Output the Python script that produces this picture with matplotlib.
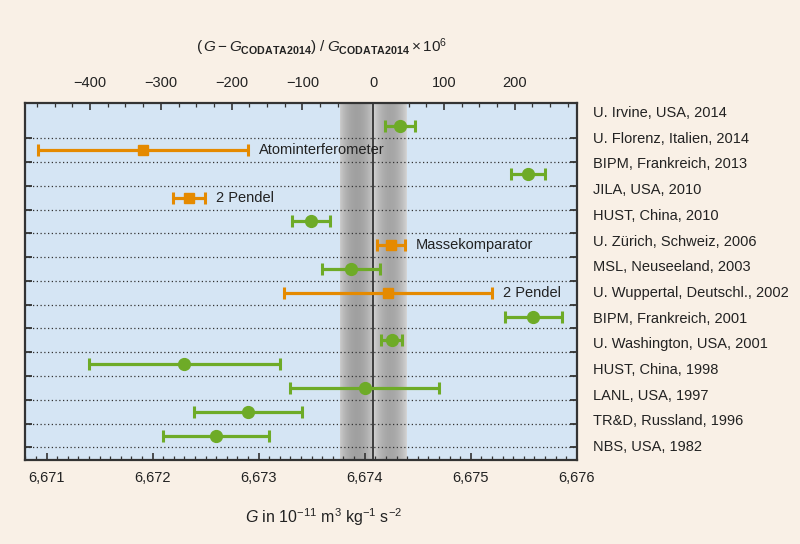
import numpy as np
import matplotlib.pyplot as plt
from matplotlib.ticker import MultipleLocator

plt.rcParams['font.family'] = ['Liberation Sans', 'DejaVu Sans']
plt.rcParams['mathtext.fontset'] = 'custom'
plt.rcParams['mathtext.rm'] = 'Liberation Sans'
plt.rcParams['mathtext.it'] = 'Liberation Sans:italic'
plt.rcParams['mathtext.bf'] = 'Liberation Sans:bold'

#%% Data
experiments = ['U. Irvine, USA, 2014', 'U. Florenz, Italien, 2014', 'BIPM, Frankreich, 2013',
               'JILA, USA, 2010', 'HUST, China, 2010', 'U. Zürich, Schweiz, 2006',
               'MSL, Neuseeland, 2003', 'U. Wuppertal, Deutschl., 2002', 'BIPM, Frankreich, 2001',
               'U. Washington, USA, 2001', 'HUST, China, 1998', 'LANL, USA, 1997',
               'TR&D, Russland, 1996', 'NBS, USA, 1982']
gValues = [6.67433, 6.67191, 6.67554, 6.67234, 6.67349, 6.67425, 6.67387,
           6.67422, 6.67559, 6.674255, 6.67230, 6.67400, 6.67290, 6.67260]
gErrors = [0.00014, 0.00099, 0.00016, 0.00015, 0.00018, 0.00013, 0.00027,
           0.00098, 0.00027, 0.00010, 0.00090, 0.00070, 0.00051, 0.00050]
isHighlighted = [False, True, False, True, False, True, False,
                 True, False, False, False, False, False, False]
annotationRows = [1, 3, 5, 7]
annotationTexts = ['Atominterferometer', '2 Pendel', 'Massekomparator', '2 Pendel']

gCodata = 6.67408
codataUncPpm = 47

bottomTicks = [6.671, 6.672, 6.673, 6.674, 6.675, 6.676]
bottomTickLabels = ['6,671', '6,672', '6,673', '6,674', '6,675', '6,676']
topTicks = [-400, -300, -200, -100, 0, 100, 200]

green = '#6eab27'
orange = '#e58a00'
axBg = '#d5e5f4'
figBg = '#f9f0e6'
dark = '#333333'
textColor = '#222222'
fs = 10.5

#%% Figure
fig = plt.figure(figsize=(8, 5.44), dpi=100, facecolor=figBg)
ax = fig.add_axes([0.031, 0.1544, 0.690, 0.657])
ax.set_facecolor(axBg)

xLim = (6.670795, 6.676)
yLim = (14.03, -0.996)

# CODATA band with shading
bandLo = gCodata * (1 - codataUncPpm * 1e-6)
bandHi = gCodata * (1 + codataUncPpm * 1e-6)
u = np.linspace(0, 2, 240)
halfPos = np.where(u < 1, u, u - 1)
profile = np.where(u < 1,
                   0.80 - 0.17 * np.sin(np.pi * halfPos) ** 0.8,
                   0.84 - 0.19 * np.sin(np.pi * halfPos) ** 0.8)
img = np.dstack([profile, profile, profile]).reshape(1, -1, 3)
ax.imshow(img, extent=[bandLo, bandHi, yLim[0], yLim[1]], aspect='auto',
          interpolation='bilinear', zorder=1)

for y in np.arange(len(experiments)) + 0.5:
    ax.axhline(y, color=dark, lw=0.9, ls=(0, (1, 2)), zorder=2)
ax.axvline(gCodata, color=dark, lw=1.3, zorder=2)

rows = np.arange(len(experiments))
for index, (g, e, hl) in enumerate(zip(gValues, gErrors, isHighlighted)):
    if hl:
        ax.errorbar(g, rows[index], xerr=e, fmt='s', color=orange, ms=7,
                    lw=2.3, capsize=4.5, capthick=2.2, zorder=3)
    else:
        ax.errorbar(g, rows[index], xerr=e, fmt='o', color=green, ms=8.5,
                    lw=2.3, capsize=4.5, capthick=2.2, zorder=3)

for row, text in zip(annotationRows, annotationTexts):
    ax.annotate(text, (gValues[row] + gErrors[row], rows[row]), xytext=(8, 0),
                textcoords='offset points', va='center', ha='left',
                fontsize=fs, color=textColor, zorder=4)

ax.set_xlim(*xLim)
ax.set_ylim(*yLim)

ax.set_xticks(bottomTicks)
ax.set_xticklabels(bottomTickLabels)
ax.xaxis.set_minor_locator(MultipleLocator(0.0001))
ax.tick_params(axis='x', which='major', direction='in', length=5, width=1.2,
               labelsize=fs, pad=8, colors=dark, labelcolor=textColor)
ax.tick_params(axis='x', which='minor', direction='in', length=3, width=0.9, colors=dark)

ax.set_yticks(rows + 0.5)
ax.tick_params(axis='y', which='major', direction='in', length=5, width=1.3,
               left=True, right=True, labelleft=False, colors=dark)

for spine in ax.spines.values():
    spine.set_color(dark)
    spine.set_linewidth(1.6)
    spine.set_zorder(5)

topAx = ax.secondary_xaxis('top', functions=(lambda g: (g / gCodata - 1) * 1e6,
                                              lambda p: gCodata * (1 + p * 1e-6)))
topAx.set_xticks(topTicks)
topAx.xaxis.set_minor_locator(MultipleLocator(25))
topAx.tick_params(which='major', direction='in', length=5, width=1.2, labelsize=fs,
                  pad=9, colors=dark, labelcolor=textColor)
topAx.tick_params(which='minor', direction='in', length=3, width=0.9, colors=dark)
topAx.spines['top'].set_visible(False)

# experiment labels on the right
labelY = np.linspace(-0.56, 13.49, len(experiments))
for name, y in zip(experiments, labelY):
    ax.text(1.029, y, name, transform=ax.get_yaxis_transform(), va='center',
            ha='left', fontsize=fs, color=textColor, clip_on=False)

fig.text(0.4025, 0.9136,
         r'$(\,G - G_{\mathbf{CODATA2014}})\;/\;G_{\mathbf{CODATA2014}}\times 10^{6}$',
         ha='center', va='center', fontsize=11, color=textColor)
fig.text(0.404, 1 - 517 / 544,
         r'$G$ in 10$^{-11}$ m$^{3}$ kg$^{-1}$ s$^{-2}$',
         ha='center', va='center', fontsize=11.5, color=textColor)

fig.savefig('out.png', dpi=100, facecolor=figBg)
